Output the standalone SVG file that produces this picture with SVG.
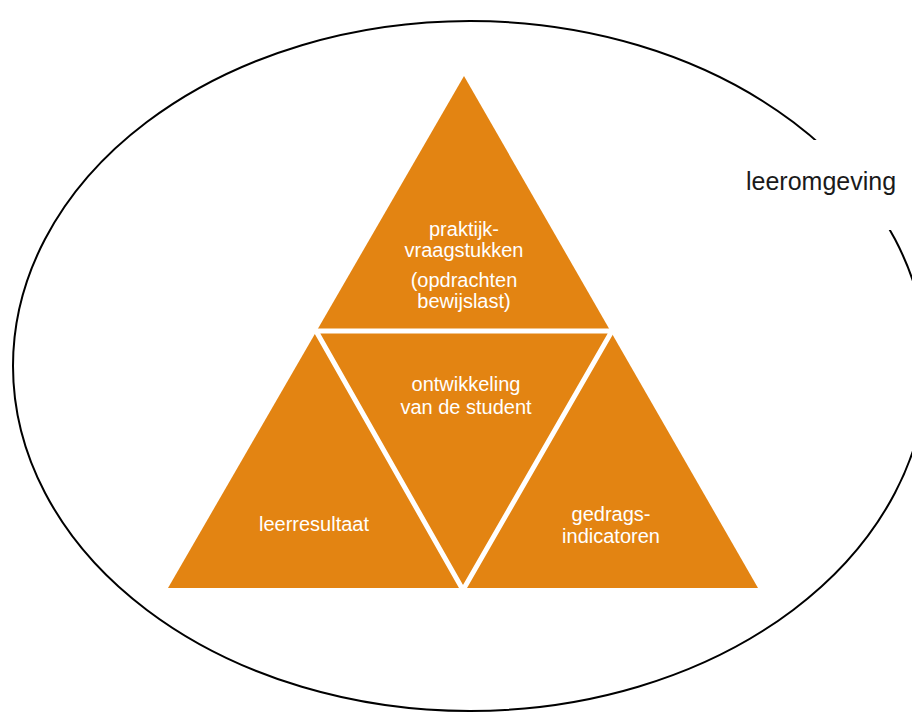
<svg xmlns="http://www.w3.org/2000/svg" width="912" height="713" viewBox="0 0 912 713">
<style>
.lbl{font-family:"Liberation Sans",Arial,sans-serif;font-size:20px;fill:#ffffff;text-anchor:middle}
.seg{fill:#E38412}
</style>
<rect width="912" height="713" fill="#ffffff"/>
<g id="environment">
<ellipse cx="470" cy="366" rx="457" ry="345" fill="none" stroke="#000" stroke-width="2"/>
<rect x="735" y="140" width="177" height="90" fill="#ffffff"/>
<text x="746" y="190" style="font-family:'Liberation Sans',Arial,sans-serif;font-size:25px;fill:#1a1a1a">leeromgeving</text>
</g>
<g id="pyramid">
<polygon class="seg" points="464,76 168,588 758,588"/>
</g>
<g id="connectors">
<polyline points="316,331 612,331 463,590 316,331" fill="none" stroke="#ffffff" stroke-width="5" stroke-linejoin="miter"/>
</g>
<g id="top">
<text class="lbl" x="464" y="236">praktijk-</text>
<text class="lbl" x="464" y="257">vraagstukken</text>
<text class="lbl" x="464" y="287">(opdrachten</text>
<text class="lbl" x="464" y="308">bewijslast)</text>
</g>
<g id="middle">
<text class="lbl" x="466" y="391">ontwikkeling</text>
<text class="lbl" x="466" y="414">van de student</text>
</g>
<g id="left">
<text class="lbl" x="314" y="531">leerresultaat</text>
</g>
<g id="right">
<text class="lbl" x="611" y="521">gedrags-</text>
<text class="lbl" x="611" y="543">indicatoren</text>
</g>
</svg>
